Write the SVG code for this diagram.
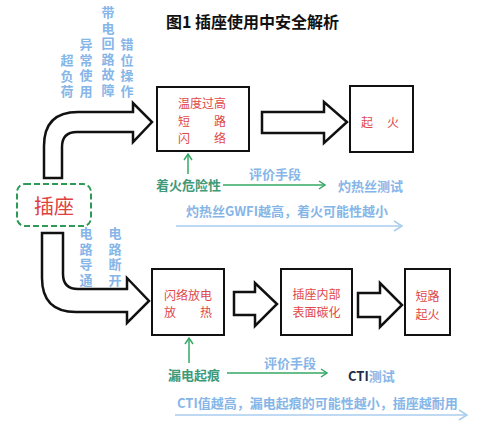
<svg xmlns="http://www.w3.org/2000/svg" width="500" height="442" viewBox="0 0 500 442">
<defs>
<style>
text{font-family:"Noto Sans CJK SC","Liberation Sans",sans-serif;}
.title{font-size:16px;font-weight:bold;fill:#111;}
.box{fill:#fff;stroke:#111;stroke-width:2;}
.bigarrow{fill:#fff;stroke:#111;stroke-width:2.5;stroke-linejoin:miter;}
.red{font-size:12px;fill:#e04848;}
.lbl{font-size:13px;font-weight:bold;fill:#86b6e8;writing-mode:vertical-rl;letter-spacing:2.5px;}
.blue{font-size:13px;font-weight:bold;fill:#86b6e8;}
.green{font-size:13px;font-weight:bold;fill:#3f9a78;}
.gline{stroke:#35a865;stroke-width:1.5;fill:none;}
.bline{stroke:#a9cdec;stroke-width:1.5;fill:none;}
</style>
<marker id="ga" markerWidth="10" markerHeight="10" refX="8" refY="5" orient="auto" markerUnits="userSpaceOnUse"><path d="M2,1 L8,5 L2,9" fill="none" stroke="#35a865" stroke-width="1.5"/></marker>
<marker id="ba" markerWidth="12" markerHeight="12" refX="10" refY="6" orient="auto" markerUnits="userSpaceOnUse"><path d="M2,1 L10,6 L2,11" fill="none" stroke="#a9cdec" stroke-width="1.5"/></marker>
</defs>
<rect width="500" height="442" fill="#fff"/>
<text class="title" x="166" y="28">图1 插座使用中安全解析</text>

<g id="cause-labels">
<text class="lbl" x="67" y="54">超负荷</text>
<text class="lbl" x="86" y="38">异常使用</text>
<text class="lbl" x="108" y="6">带电回路故障</text>
<text class="lbl" x="127" y="38">错位操作</text>
<text class="lbl" x="86" y="227">电路导通</text>
<text class="lbl" x="115" y="227">电路断开</text>
</g>

<g id="connectors">
<path class="bigarrow" d="M44,178 V146 Q44,112 78,112 H133 V103 L152,122 L133,142 V132 H77 Q62,132 62,147 V178 Z"/>
<path class="bigarrow" d="M42,233 V278 Q42,312 76,312 H127 V323 L149,301 L127,278 V289 H78 Q63,289 63,274 V233 Z"/>
<path class="bigarrow" d="M262,112 H324 V102 L347,122 L324,143 V133 H262 Z"/>
<path class="bigarrow" d="M234,292 H255 V283 L277,304 L255,326 V315 H234 Z"/>
<path class="bigarrow" d="M358,293 H380 V283 L402,305 L380,327 V317 H358 Z"/>
<line class="gline" x1="188" y1="174" x2="188" y2="154" marker-end="url(#ga)"/>
<line class="gline" x1="223" y1="185" x2="325" y2="185" marker-end="url(#ga)"/>
<line class="gline" x1="189" y1="363" x2="189" y2="338" marker-end="url(#ga)"/>
<line class="gline" x1="227" y1="373" x2="327" y2="373" marker-end="url(#ga)"/>
<line class="bline" x1="176" y1="226" x2="402" y2="226" marker-end="url(#ba)"/>
<line class="bline" x1="175" y1="415" x2="467" y2="415" marker-end="url(#ba)"/>
</g>

<g id="socket">
<rect x="17" y="184" width="74" height="42" rx="8" fill="#fff" stroke="#2e9a55" stroke-width="2" stroke-dasharray="6,3"/>
<text x="54" y="214" font-size="20" fill="#e04040" text-anchor="middle">插座</text>
</g>

<g id="box-heat">
<rect class="box" x="157" y="87" width="92" height="64"/>
<text class="red"><tspan x="178" y="108">温度过高</tspan><tspan x="178" y="125.5">短</tspan><tspan x="214" y="125.5">路</tspan><tspan x="178" y="143">闪</tspan><tspan x="214" y="143">络</tspan></text>
</g>

<g id="box-fire">
<rect class="box" x="350" y="86" width="63" height="66"/>
<text class="red"><tspan x="361" y="127">起</tspan><tspan x="387" y="127">火</tspan></text>
</g>

<g id="box-arc">
<rect class="box" x="152" y="269" width="72" height="66"/>
<text class="red"><tspan x="164" y="299.5">闪络放电</tspan><tspan x="164" y="317">放</tspan><tspan x="200" y="317">热</tspan></text>
</g>

<g id="box-carbon">
<rect class="box" x="281" y="269" width="71" height="66"/>
<text class="red" text-anchor="middle"><tspan x="316.5" y="299">插座内部</tspan><tspan x="316.5" y="316.5">表面碳化</tspan></text>
</g>

<g id="box-short">
<rect class="box" x="405" y="269" width="45" height="66"/>
<text class="red" text-anchor="middle"><tspan x="427.5" y="301">短路</tspan><tspan x="427.5" y="318.5">起火</tspan></text>
</g>

<g id="fire-risk">
<text class="green" x="156" y="190">着火危险性</text>
<text class="blue" x="275" y="179" text-anchor="middle">评价手段</text>
<text class="blue" x="338" y="191">灼热丝测试</text>
<text class="blue" x="186" y="216">灼热丝GWFI越高，着火可能性越小</text>
</g>

<g id="tracking">
<text class="green" x="168" y="380">漏电起痕</text>
<text class="blue" x="290" y="368" text-anchor="middle">评价手段</text>
<text class="blue" x="348" y="381"><tspan fill="#1c2c4a">CTI</tspan>测试</text>
<text class="blue" x="177" y="408">CTI值越高，漏电起痕的可能性越小，插座越耐用</text>
</g>
</svg>
